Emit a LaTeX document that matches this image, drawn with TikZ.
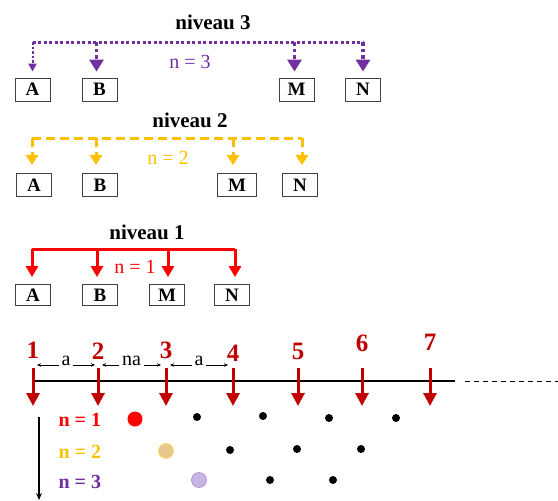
\documentclass[tikz,border=0pt]{standalone}
\usepackage{fontspec}
\setmainfont{Liberation Serif}
\usetikzlibrary{arrows.meta,calc}
\definecolor{purp}{HTML}{7030A0}
\definecolor{gold}{HTML}{FFC000}
\definecolor{dred}{HTML}{C00000}
\definecolor{tan}{HTML}{E6C88E}
\definecolor{tanb}{HTML}{FFD966}
\definecolor{lav}{HTML}{C8B6E2}
\definecolor{lavb}{HTML}{A48AD0}
\begin{document}
\begin{tikzpicture}[x=1pt,y=-1pt,
  box/.style={draw=black!75, line width=0.8pt, minimum width=35pt, minimum height=23pt, inner sep=0pt, font=\fontsize{19}{19}\selectfont\bfseries},
  boxs/.style={box, minimum height=21pt},
  title/.style={font=\fontsize{21}{21}\selectfont\bfseries},
  nlab/.style={font=\fontsize{20}{20}\selectfont},
  bus3/.style={purp, line width=3pt, dash pattern=on 3pt off 2.5pt},
  bus3d/.style={purp, line width=3.5pt, dash pattern=on 3.5pt off 3pt},
  bus3t/.style={purp, line width=2pt, dash pattern=on 2.5pt off 2pt},
  tip3/.style={-{Triangle[width=14pt,length=12pt]}},
  tip3t/.style={-{Triangle[width=8pt,length=8pt]}},
  bus2/.style={gold, line width=3pt, dash pattern=on 9pt off 5pt},
  tip2/.style={-{Triangle[width=12pt,length=10pt]}},
  bus1/.style={red, line width=3pt},
  tip1/.style={-{Triangle[width=12pt,length=11pt]}},
  rarrow/.style={dred, line width=3pt, -{Triangle[width=13pt,length=13pt]}},
  num/.style={dred, font=\fontsize{25}{25}\selectfont\bfseries},
  dim/.style={line width=0.6pt, {Stealth[length=4pt,width=3.5pt]}-{Stealth[length=4pt,width=3.5pt]}},
  dimlab/.style={fill=white, inner xsep=3pt, inner ysep=1.5pt, anchor=base, font=\fontsize{20}{20}\selectfont},
  rowlab/.style={anchor=west, font=\fontsize{20}{20}\selectfont\bfseries},
  sdot/.style={circle, fill=black, inner sep=0pt, minimum size=8pt},
  bdot/.style={circle, inner sep=0pt, minimum size=15pt}
]
\useasboundingbox (0,0) rectangle (558,501);

% ---------- niveau 3 ----------
\node[title] (ti3) at (213,22) {niveau 3};
\node[box] (a3) at (32.5,89.5) {A};
\node[box] (b3) at (99.5,89.5) {B};
\node[box] (m3) at (296.5,89.5) {M};
\node[box] (n3) at (363,89.5) {N};
\coordinate (t3) at (0,42);
\draw[bus3] (a3.north |- t3) -- (n3.north |- t3);
\draw[bus3t, tip3t, shorten >=6pt] (a3.north |- t3) -- (a3.north);
\draw[bus3d, tip3, shorten >=6pt] ($(b3.north |- t3)+(-3,0)$) -- ($(b3.north)+(-3,0)$);
\draw[bus3d, tip3, shorten >=6pt] ($(m3.north |- t3)+(-2,0)$) -- ($(m3.north)+(-2,0)$);
\draw[bus3d, tip3, shorten >=6pt] (n3.north |- t3) -- (n3.north);
\node[nlab, purp] (l3) at (190,62) {n = 3};

% ---------- niveau 2 ----------
\node[title] (ti2) at (190,120) {niveau 2};
\node[box] (a2) at (34,185) {A};
\node[box] (b2) at (100,185) {B};
\node[box, minimum width=39pt] (m2) at (237,185) {M};
\node[box] (n2) at (300,185) {N};
\coordinate (t2) at (0,138);
\draw[bus2] ($(a2.north |- t2)+(-2,0)$) -- ($(n2.north |- t2)+(2,0)$);
\draw[bus2, tip2, shorten >=8pt] ($(a2.north |- t2)+(-2,0)$) -- ($(a2.north)+(-2,0)$);
\draw[bus2, tip2, shorten >=8pt] ($(b2.north |- t2)+(-4,0)$) -- ($(b2.north)+(-4,0)$);
\draw[bus2, tip2, shorten >=8pt] ($(m2.north |- t2)+(-4,0)$) -- ($(m2.north)+(-4,0)$);
\draw[bus2, tip2, shorten >=8pt] ($(n2.north |- t2)+(2,0)$) -- ($(n2.north)+(2,0)$);
\node[nlab, gold] (l2) at (168,158) {n = 2};

% ---------- niveau 1 ----------
\node[title] (ti1) at (147,232) {niveau 1};
\node[boxs] (a1) at (33,295) {A};
\node[boxs] (b1) at (100,295) {B};
\node[boxs] (m1) at (167,295) {M};
\node[boxs] (n1) at (232,295) {N};
\coordinate (t1) at (0,249);
\draw[bus1] ($(a1.north |- t1)+(-1,0)$) -- ($(n1.north |- t1)+(3,0)$);
\draw[bus1, tip1, shorten >=7pt] ($(a1.north |- t1)+(-1,0)$) -- ($(a1.north)+(-1,0)$);
\draw[bus1, tip1, shorten >=7pt] ($(b1.north |- t1)+(-3,0)$) -- ($(b1.north)+(-3,0)$);
\draw[bus1, tip1, shorten >=7pt] ($(m1.north |- t1)+(1,0)$) -- ($(m1.north)+(1,0)$);
\draw[bus1, tip1, shorten >=7pt] ($(n1.north |- t1)+(3,0)$) -- ($(n1.north)+(3,0)$);
\node[nlab, red] (l1) at (135,267) {n = 1};

% ---------- chaine ----------
\node[num] (k1) at (33,350) {1};
\node[num] (k2) at (98,351) {2};
\node[num] (k3) at (166,350) {3};
\node[num] (k4) at (233,353) {4};
\node[num] (k5) at (298,351) {5};
\node[num] (k6) at (362,343) {6};
\node[num] (k7) at (430,342) {7};
\coordinate (ls) at (33,381);
\coordinate (le) at (455,381);
\coordinate (ds) at (465,381);
\coordinate (de) at (558,381);
\draw[line width=2pt] (ls) -- (le);
\draw[line width=0.8pt, dash pattern=on 5pt off 4pt] (ds) -- (de);
\coordinate (at) at (0,368);
\coordinate (ab) at (0,406);
\foreach \k in {1,...,7}{
  \draw[rarrow] (k\k |- at) -- (k\k |- ab);
}
\coordinate (dm) at (0,365);
\draw[dim] ($(k1 |- dm)+(4,0)$) -- ($(k2 |- dm)+(-3,0)$) node[dimlab, midway] {a};
\draw[dim] ($(k2 |- dm)+(4,0)$) -- ($(k3 |- dm)+(-5,0)$) node[dimlab, midway] {na};
\draw[dim] ($(k3 |- dm)+(4,0)$) -- ($(k4 |- dm)+(-5,0)$) node[dimlab, midway] {a};

% ---------- lignes n ----------
\coordinate (vs) at (39,417);
\coordinate (ve) at (39,500);
\draw[line width=1.2pt, -{Stealth[length=7pt,width=6pt]}] (vs) -- (ve);
\node[rowlab, red] (r1) at (55,420) {n = 1};
\node[rowlab, gold] (r2) at (55,452) {n = 2};
\node[rowlab, purp] (r3) at (55,482) {n = 3};

\node[bdot, fill=red] (d11) at (135,419) {};
\node[sdot] (d12) at (197,417) {};
\node[sdot] (d13) at (263,416) {};
\node[sdot] (d14) at (329,418) {};
\node[sdot] (d15) at (396,418) {};

\node[bdot, fill=tan, draw=tanb, line width=0.8pt] (d21) at (166,451) {};
\node[sdot] (d22) at (230,450) {};
\node[sdot] (d23) at (297,449) {};
\node[sdot] (d24) at (361,449) {};

\node[bdot, fill=lav, draw=lavb, line width=0.6pt] (d31) at (199,480) {};
\node[sdot] (d32) at (270,480) {};
\node[sdot] (d33) at (333,480) {};
\end{tikzpicture}
\end{document}
